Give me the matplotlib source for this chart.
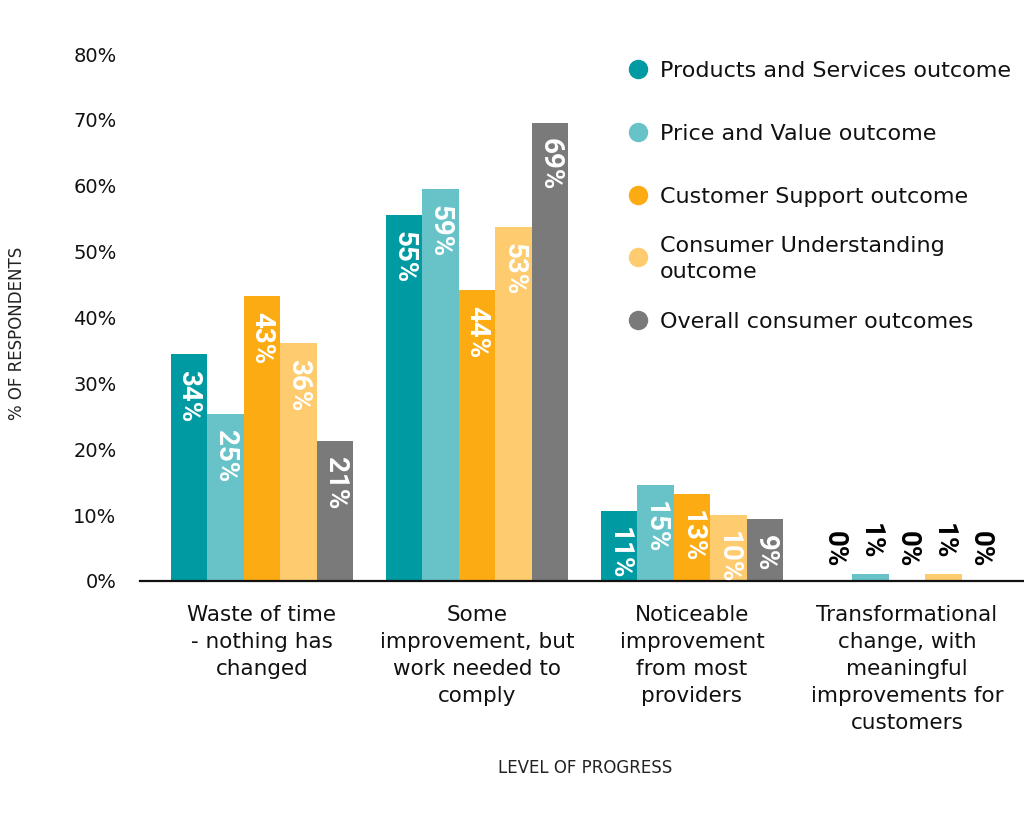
import matplotlib
matplotlib.use("Agg")
import matplotlib.pyplot as plt
import numpy as np

plt.rcParams['font.family'] = ['DejaVu Sans']

categories = [
    "Waste of time\n- nothing has\nchanged",
    "Some\nimprovement, but\nwork needed to\ncomply",
    "Noticeable\nimprovement\nfrom most\nproviders",
    "Transformational\nchange, with\nmeaningful\nimprovements for\ncustomers",
]
series_names = [
    "Products and Services outcome",
    "Price and Value outcome",
    "Customer Support outcome",
    "Consumer Understanding\noutcome",
    "Overall consumer outcomes",
]
colors = ["#009aa2", "#68c3c9", "#fdab13", "#fecb6f", "#7a7a7a"]

values = [
    [34.4, 55.5, 10.6, 0.0],
    [25.3, 59.5, 14.6, 1.1],
    [43.2, 44.2, 13.2, 0.0],
    [36.1, 53.7, 10.0, 1.1],
    [21.2, 69.6, 9.4, 0.0],
]
labels = [
    ["34%", "55%", "11%", "0%"],
    ["25%", "59%", "15%", "1%"],
    ["43%", "44%", "13%", "0%"],
    ["36%", "53%", "10%", "1%"],
    ["21%", "69%", "9%", "0%"],
]
yticks = [0, 10, 20, 30, 40, 50, 60, 70, 80]

fig = plt.figure(figsize=(10.24, 8.14), dpi=100)
ax = fig.add_axes([140 / 1024, 1 - 581 / 814, 884 / 1024, 527 / 814])

x = np.arange(len(categories))
w = 0.17
for i in range(len(series_names)):
    xs = x + (i - 2) * w
    ax.bar(xs, values[i], width=w, color=colors[i])
    for xi, v, lab in zip(xs, values[i], labels[i]):
        if v >= 5:
            ax.annotate(lab, (xi, v), xytext=(0, -11.5), textcoords="offset points",
                        rotation=-90, ha="center", va="top", color="white",
                        fontsize=20, fontweight="bold", family="Roboto")
        else:
            ax.annotate(lab, (xi, v), xytext=(0, 10), textcoords="offset points",
                        rotation=-90, ha="center", va="bottom", color="black",
                        fontsize=20, fontweight="bold", family="Roboto")

ax.set_xlim(-0.567, 3.544)
ax.set_ylim(0, 80)
ax.set_yticks(yticks)
ax.set_yticklabels([f"{t}%" for t in yticks], fontsize=14, color="#111111")
ax.set_xticks(x)
ax.set_xticklabels(categories, fontsize=15.5, color="#111111", linespacing=1.45, va="top")
ax.tick_params(axis="both", length=0)
ax.tick_params(axis="x", pad=17)
ax.tick_params(axis="y", pad=17)
for s in ["top", "right", "left"]:
    ax.spines[s].set_visible(False)
ax.spines["bottom"].set_linewidth(1.6)
ax.spines["bottom"].set_color("#111111")

fig.text(17 / 1024, 1 - 333 / 814, "% OF RESPONDENTS", rotation=90, ha="center", va="center",
         fontsize=12, color="#222222")
fig.text(585 / 1024, 1 - 768 / 814, "LEVEL OF PROGRESS", ha="center", va="center",
         fontsize=12, color="#222222")

# legend drawn by hand to match spacing
leg_y = [71, 134, 197, 259, 322]
for name, c, ly in zip(series_names, colors, leg_y):
    fy = 1 - ly / 814
    fig.add_artist(plt.Line2D([638 / 1024], [fy + 2 / 814], marker="o", markersize=13,
                              color=c, linestyle="none", transform=fig.transFigure))
    fig.text(660 / 1024, fy, name, ha="left", va="center", fontsize=16,
             color="#111111", linespacing=1.4)

fig.savefig("out.png", dpi=100)
